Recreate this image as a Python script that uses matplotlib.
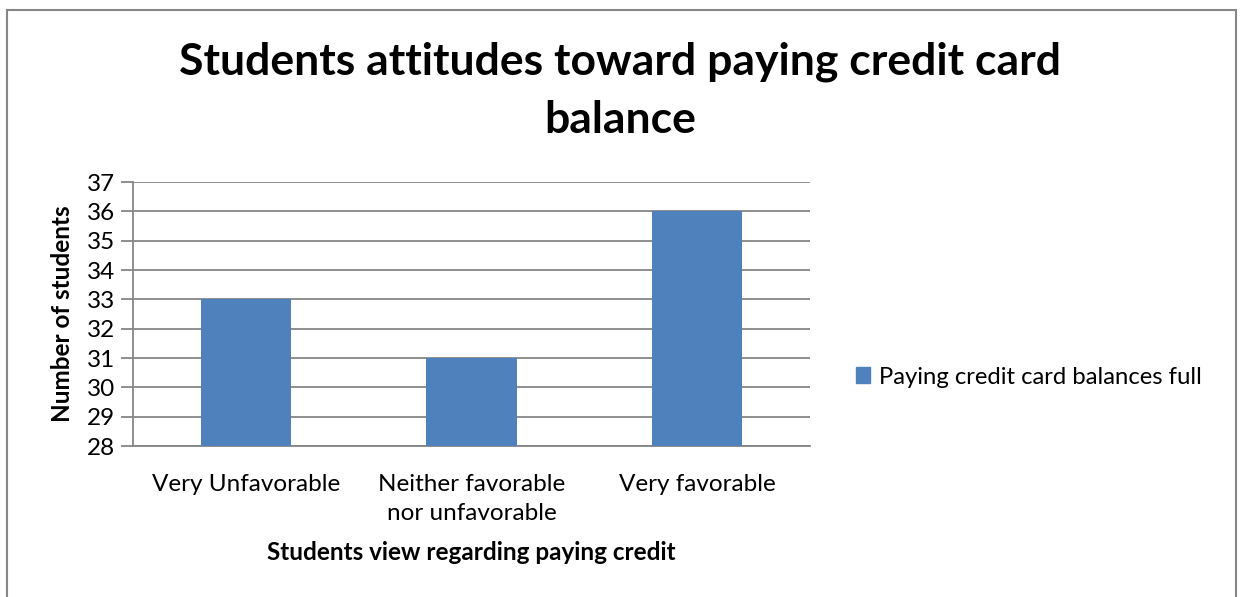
import matplotlib.pyplot as plt
from matplotlib.patches import Rectangle, Patch

plt.rcParams['font.family'] = ['Lato', 'DejaVu Sans']

# Datos
categorias = ["Very Unfavorable", "Neither favorable\nnor unfavorable", "Very favorable"]
estudiantes = [33, 31, 36]
serie = "Paying credit card balances full"
y_ticks = list(range(28, 38))

azul = "#4F81BD"
gris = "#868686"

fig = plt.figure(figsize=(12.43, 5.97), dpi=100)
ax = fig.add_axes([0.107, 0.2529, 0.5447, 0.4422])

x = range(len(categorias))
ax.bar(x, [v - 28 for v in estudiantes], bottom=28, width=0.4, color=azul, zorder=3)

ax.set_xlim(-0.5, len(categorias) - 0.5)
ax.set_ylim(28, 37)
ax.set_yticks(y_ticks)
ax.set_yticklabels([str(t) for t in y_ticks], fontsize=17.5)
ax.set_xticks(list(x))
ax.set_xticklabels(categorias, fontsize=17.5, linespacing=1.5)
ax.tick_params(axis='x', length=0, pad=20)
ax.tick_params(axis='y', length=9, width=1.3, color=gris, pad=4)
ax.yaxis.grid(True, color=gris, linewidth=1.3, zorder=0)

for lado in ['top', 'right']:
    ax.spines[lado].set_visible(False)
for lado in ['left', 'bottom']:
    ax.spines[lado].set_color(gris)
    ax.spines[lado].set_linewidth(1.3)

ax.set_xlabel("Students view regarding paying credit", fontsize=17.5,
              fontweight='bold', labelpad=12)
ax.set_ylabel("Number of students", fontsize=17.5, fontweight='bold', labelpad=9)

fig.text(0.4987, 0.848, "Students attitudes toward paying credit card\nbalance",
         ha='center', va='center', fontsize=32, fontweight='bold', linespacing=1.55)

fig.legend(handles=[Patch(color=azul, label=serie)], loc='center left',
           bbox_to_anchor=(0.671, 1 - 377 / 597), frameon=False, fontsize=17.2,
           handlelength=0.6, handleheight=0.6, handletextpad=0.4)

# Marco exterior del gráfico
fig.patches.append(Rectangle((0.0056, -0.02), 0.9888, 1.0033, transform=fig.transFigure,
                             fill=False, edgecolor=gris, linewidth=1.5))

plt.savefig("out.png", dpi=100)
